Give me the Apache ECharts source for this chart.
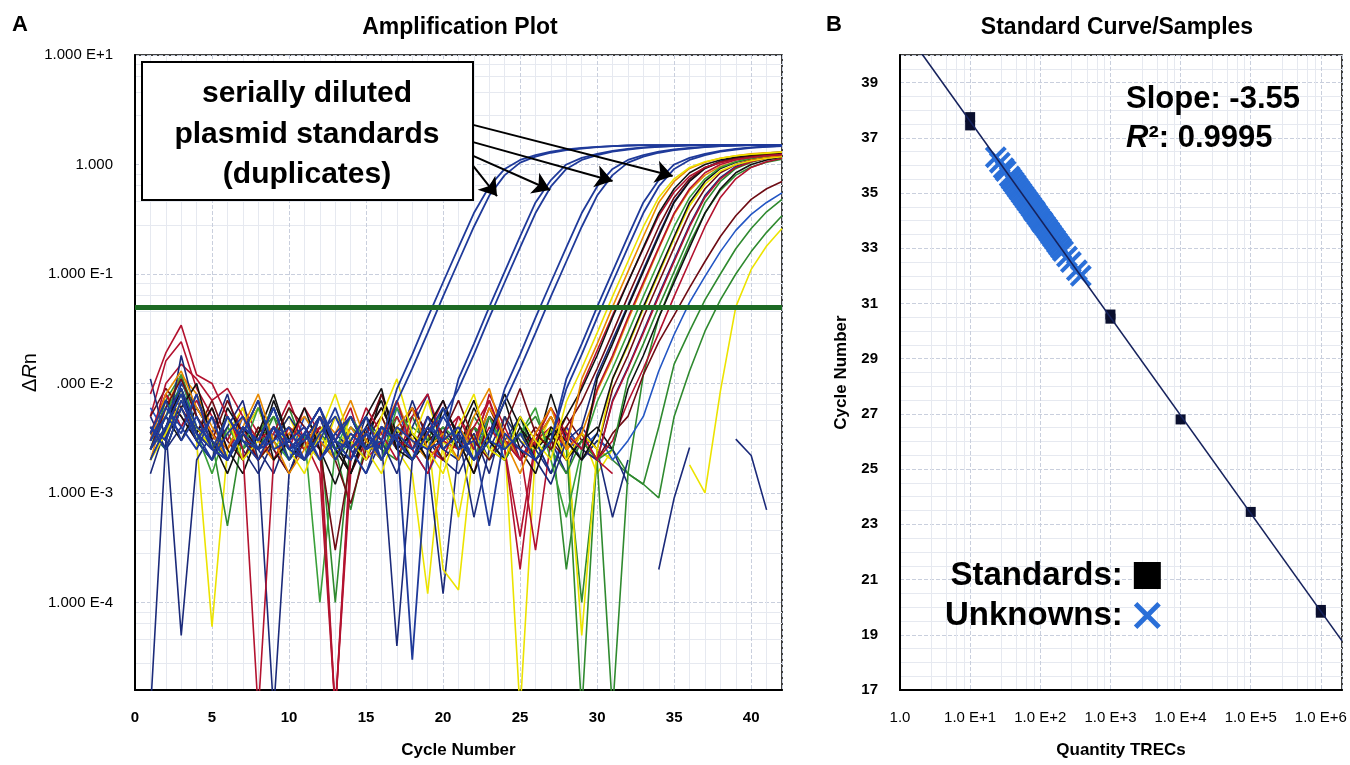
<!DOCTYPE html>
<html><head><meta charset="utf-8">
<script src="https://cdn.jsdelivr.net/npm/echarts@6/dist/echarts.min.js"></script>
<style>html,body{margin:0;padding:0;background:#fff}#c{width:1350px;height:765px}</style>
</head><body><div id="c"></div>
<script>
// ---------- Panel A: amplification curves (ΔRn per cycle 1..42) ----------
const cycles = [1,2,3,4,5,6,7,8,9,10,11,12,13,14,15,16,17,18,19,20,21,22,23,24,25,26,27,28,29,30,31,32,33,34,35,36,37,38,39,40,41,42];
const s1 = [.002,.0035,.007,.004,.0025,.005,.002,.003,.006,.0025, .0015,.0035,.008,.003,.002,.005,.011,.0035,.0025,.0015, .004,.008,.0025,.002,.005,.003,.002,.0068,.0137,.029, .0625,.13,.27,.5,.74,.94,1.06,1.14,1.2,1.24,1.27,1.3];
const s2 = [.003,.008,.013,.006,.0035,.002,.004,.008,.003,.0015, .0025,.005,.0035,.007,.003,.002,.004,.006,.0025,.0035, .002,.005,.009,.003,.0015,.0035,.006,.0025,.011,.023, .05,.105,.22,.45,.70,.92,1.05,1.14,1.2,1.25,1.28,1.3];
const s3 = [.004,.0025,.006,.01,.003,.0015,.0035,.007,.002,.003, .006,.0025,.0012,.003,.005,.009,.0025,.002,.004,.007, .003,.0015,.0035,.008,.004,.002,.003,.005,.0089,.018, .040,.084,.175,.36,.6,.84,1.0,1.1,1.17,1.22,1.26,1.29];
const s4 = [.008,.019,.034,.012,.01,.005,.0025,.00001,.002,.004, .003,.0015,.00001,.0025,.006,.0035,.002,.005,.008,.003, .0025,.004,.007,.003,.002,.0035,.006,.003,.0095,.02, .042,.085,.17,.34,.56,.78,.94,1.04,1.11,1.16,1.2,1.23];
const s5 = [.0025,.006,.011,.005,.003,.007,.0035,.002,.003,.006, .004,.0025,.0003,.002,.0035,.008,.003,.0025,.005,.0035, .007,.003,.002,.004,.009,.0035,.0025,.004,.0068,.0137, .029,.0625,.13,.27,.5,.74,.94,1.06,1.14,1.2,1.24,1.27];
const s6 = [.002,.004,.009,.0035,.006,.0025,.0015,.0035,.008,.003, .002,.005,.003,.0015,.004,.007,.0025,.0035,.002,.006, .0035,.002,.003,.007,.0025,.0015,.004,.003,.002,.011, .023,.05,.105,.22,.45,.70,.92,1.05,1.14,1.2,1.25,1.28];
const s7 = [.011,.003,.018,.005,.0025,.004,.007,.002,.00001,.0015, .0035,.006,.0025,.002,.005,.003,.0015,.004,.008,.0025, .002,.0035,.0015,.005,.003,.002,.0012,.003,.004,.012, .025,.052,.11,.23,.46,.71,.93,1.07,1.16,1.22,1.27,1.3];
const s8 = [.003,.01,.015,.011,.007,.009,.005,.003,.004,.0025, .006,.0035,.00001,.002,.004,.003,.007,.0025,.0015,.0035, .005,.0025,.008,.004,.002,.003,.006,.0035,.0025,.0089, .018,.040,.084,.175,.36,.6,.84,1.0,1.1,1.17,1.22,1.26];
const s9 = [.0025,.005,.012,.0035,.0015,.004,.0025,.006,.003,.002, .0035,.0001,.0025,.005,.003,.002,.006,.0035,.0025,.004, .003,.002,.005,.0025,.0035,.006,.002,.0006,.0025,.0068, .0137,.029,.0625,.13,.27,.5,.74,.94,1.06,1.14,1.2,1.24];
const s10 = [.0035,.007,.005,.003,.002,.006,.0035,.0025,.004,.002, .003,.005,.0025,.0015,.0035,.006,.003,.002,.004,.0025, .0035,.007,.003,.002,.005,.0025,.008,.003,.002,.0035, .011,.023,.05,.105,.22,.45,.70,.92,1.05,1.14,1.2,1.25];
const s11 = [.002,.006,.012,.008,.004,.0025,.005,.003,.002,.0035, .005,.003,.002,.004,.0025,.0035,.007,.003,.002,.003, .004,.0025,.006,.0035,.002,.003,.005,.0025,.0035,.0085, .017,.038,.08,.17,.35,.58,.8,.96,1.06,1.12,1.17,1.2];
const s12 = [.005,.009,.006,.0035,.007,.003,.002,.004,.0025,.0015, .003,.005,.002,.0008,.0025,.004,.003,.006,.0035,.002, .003,.0015,.005,.0035,.0025,.004,.003,.002,.0035,.0025, .0089,.018,.040,.084,.175,.36,.6,.84,1.0,1.1,1.17,1.22];
const s13 = [.003,.008,.004,.007,.0035,.0025,.005,.003,.002,.0035, .0025,.004,.003,.006,.002,.003,.005,.0025,.0035,.007, .003,.002,.004,.0025,.0004,.003,.005,.0025,.0035,.002, .0068,.0137,.029,.0625,.13,.27,.5,.74,.94,1.06,1.14,1.2];
const s14 = [.0015,.004,.00005,.002,.0035,.008,.0025,.0015,.003,.005, .003,.002,.0035,.0025,.0015,.003,.00004,.002,.004,.0025, .0035,.0006,.0025,.005,.002,.003,.0015,.0035,.0025,.002, .007,.014,.03,.065,.135,.28,.52,.76,.96,1.08,1.16,1.22];
const s15 = [.003,.006,.009,.004,.0025,.005,.002,.0035,.006,.0025, .002,.0035,.0001,.003,.005,.0025,.002,.004,.003,.006, .0025,.004,.003,.002,.0035,.005,.0025,.0015,.003,.002, .0025,.011,.023,.05,.105,.22,.45,.7,.92,1.05,1.14,1.2];
const s16 = [.0025,.005,.003,.006,.0035,.002,.004,.0025,.007,.003, .002,.004,.003,.005,.0025,.008,.0035,.002,.003,.004, .0025,.006,.003,.002,.004,.0025,.0035,.002,.003,.004, .0025,.0089,.018,.04,.084,.175,.36,.6,.84,1.0,1.1,1.17];
const s17 = [.0035,.008,.005,.003,.006,.0025,.004,.002,.0035,.007, .003,.005,.002,.0035,.0025,.004,.003,.006,.0025,.002, .005,.003,.007,.0025,.0002,.003,.004,.0025,.0035,.002, .003,.0068,.0137,.029,.0625,.13,.27,.5,.74,.94,1.06,1.14];
const s18 = [.004,.003,.007,.0035,.0025,.005,.003,.002,.004,.0025, .0035,.006,.0025,.0015,.003,.005,.0025,.0035,.002,.003, .004,.0025,.006,.003,.002,.0035,.0025,.005,.003,.002, .0035,.005,.012,.024,.042,.075,.13,.22,.34,.48,.6,.7];
const s19 = [.0025,.004,.008,.003,.005,.002,.0035,.006,.0025,.004, .003,.002,.005,.0035,.0025,.0015,.004,.003,.007,.0025, .0006,.0035,.002,.005,.003,.0025,.004,.002,.0035,.0025, .011,.022,.048,.1,.21,.42,.66,.87,1.0,1.08,1.14,1.18];
const s20 = [.006,.0035,.011,.004,.003,.002,.005,.0025,.0035,.002, .005,.003,.002,.004,.0025,.0035,.006,.0025,.0015,.003, .004,.0025,.005,.002,.0035,.003,.0015,.004,.0025,.0035, .002,.003,.005,.013,.028,.055,.095,.16,.25,.35,.45,.55];
const s21 = [.003,.005,.008,.004,.0025,.0035,.002,.004,.003,.006, .0025,.0035,.002,.003,.005,.0025,.004,.002,.003,.0035, .0025,.005,.003,.002,.0035,.0025,.004,.0002,.002,.003, .0025,.0015,.0012,.004,.015,.03,.058,.1,.17,.26,.37,.48];
const s22 = [.0035,.0025,.006,.003,.002,.004,.0025,.0035,.005,.002, .003,.004,.0025,.0007,.003,.002,.0035,.005,.0025,.003, .002,.004,.003,.0025,.005,.002,.0035,.003,.00001,.0025, .002,.0015,.0012,.0009,.005,.013,.03,.058,.1,.16,.24,.34];
const s23 = [.002,.0035,.006,.003,.00006,.0025,.004,.002,.003,.005, .0025,.0035,.002,.004,.003,.005,.0025,.0015,.00012,.003, .002,.004,.0025,.003,.00001,.0025,.005,.002,.0035,.0015, .0025,null,null,null,null,.0018,.001,.0085,.05,.11,.18,.26];
const s24 = [.005,.0025,.004,.008,.003,.002,.0035,.006,.0025,.0015, .0035,.0025,.005,.003,.002,.004,.0025,.007,.003,.002, .0015,.003,.005,.0025,.0035,.002,.003,.0015,.004,.0025, .0006,.002,null,null,null,null,null,null,.0031,.0022,.0007,null];
const s25 = [.00001,.003,.01,.006,.0035,.002,.004,.0025,.0015,.0035, .0025,.005,.003,.002,.0035,.0025,.004,.003,.002,.00012, .0025,.004,.002,.003,.005,.0025,.0015,.0035,.002,.003, .0025,.0012,null,.0002,.0009,.0026,null,null,null,null,null,null];
const s26 = [.005,.016,.024,.009,.005,.003,.006,.0035,.002,.003, .004,.0025,.00001,.0015,.0035,.006,.003,.002,.004,.0025, .0035,.002,.005,.003,.0025,.0003,.003,.004,.0025,.002, .0015,null,null,null,null,null,null,null,null,null,null,null];
const s27 = [.0025,.007,.012,.005,.003,.0005,.0035,.0025,.005,.003, .002,.0035,.0025,.004,.003,.002,.005,.0025,.0035,.002, .003,.004,.0025,.002,.0035,.003,.005,.0025,.0001,.002, .00001,.0015,.012,.04,.09,.19,.36,.58,.8,.95,1.05,1.12];
const s28 = [.003,.005,.009,.004,.0025,.0035,.006,.002,.003,.004, .0025,.0035,.002,.005,.003,.0025,.004,.002,.0035,.0002, .00013,.003,.005,.0025,.0035,.002,.003,.004,.00005,.0025, .002,null,null,null,null,null,null,null,null,null,null,null];
// plasmid standards (duplicates)
const std1a = [.003,.006,.004,.0025,.005,.002,.0035,.007,.0025,.003, .004,.002,.0035,.005,.0025,.003,.0089,.0184,.040,.084, .175,.36,.63,.91,1.10,1.22,1.31,1.37,1.42,1.45, 1.47,1.49,1.5,1.5,1.5,1.5,1.5,1.5,1.5,1.5,1.5,1.5];
const std1b = [.002,.004,.008,.0035,.0025,.005,.003,.002,.004,.0025, .0035,.006,.003,.002,.0035,.0025,.0068,.0137,.029,.0625, .13,.27,.52,.80,1.04,1.18,1.28,1.35,1.40,1.44, 1.47,1.49,1.5,1.5,1.5,1.5,1.5,1.5,1.5,1.5,1.5,1.5];
const std2a = [.004,.003,.007,.0035,.002,.005,.003,.0025,.004,.002, .0035,.006,.0025,.003,.005,.002,.0035,.0025,.004,.003, .011,.023,.05,.105,.22,.45,.72,1.0,1.15,1.25, 1.33,1.39,1.43,1.46,1.48,1.5,1.5,1.5,1.5,1.5,1.5,1.5];
const std2b = [.0025,.005,.009,.004,.003,.002,.004,.003,.006,.0025, .002,.0035,.005,.0025,.0015,.004,.003,.002,.0035,.005, .0089,.0184,.040,.084,.175,.36,.63,.91,1.10,1.22, 1.31,1.37,1.42,1.45,1.47,1.49,1.5,1.5,1.5,1.5,1.5,1.5];
const std3a = [.0035,.007,.003,.005,.0025,.002,.004,.003,.006,.0025, .003,.005,.002,.0035,.0025,.004,.003,.002,.005,.0025, .0035,.002,.003,.0089,.0184,.040,.084,.175,.36,.63, .91,1.10,1.22,1.31,1.37,1.42,1.45,1.47,1.49,1.5,1.5,1.5];
const std3b = [.0025,.004,.008,.003,.002,.0035,.005,.0025,.003,.004, .002,.003,.006,.0025,.0035,.002,.004,.003,.0025,.005, .003,.002,.0035,.0068,.0137,.029,.0625,.13,.27,.52, .80,1.04,1.18,1.28,1.35,1.40,1.44,1.47,1.49,1.5,1.5,1.5];
const std4a = [.003,.005,.0035,.008,.0025,.002,.004,.003,.006,.0025, .0035,.002,.003,.005,.0025,.004,.003,.002,.0035,.006, .0025,.003,.0005,.0035,.0025,.002,.003,.011,.023,.05, .105,.22,.45,.72,1.0,1.15,1.25,1.33,1.39,1.43,1.46,1.48];
const std4b = [.004,.0025,.006,.003,.005,.002,.0035,.0025,.004,.003, .002,.005,.003,.0025,.004,.002,.0035,.00003,.0025,.003, .004,.002,.003,.0025,.0035,.002,.003,.0089,.0184,.040, .084,.175,.36,.63,.91,1.10,1.22,1.31,1.37,1.42,1.45,1.47];
const threshold = 0.05;
const yTickLabelsA = {'1':'1.000 E+1','0':'1.000','-1':'1.000 E-1','-2':'.000 E-2','-3':'1.000 E-3','-4':'1.000 E-4'};
// annotation arrows: tail and head in (cycle, ΔRn)
const arrowTails = [[21.95,2.30],[21.95,1.60],[21.95,1.20],[21.95,0.97]];
const arrowHeads = [[34.9,0.786],[31.0,0.707],[26.95,0.585],[23.5,0.515]];

// ---------- Panel B: standard curve ----------
const stdQty = [10,10,1000,1000,10000,100000,1000000,1000000];
const stdCt  = [37.75,37.45,30.6,30.45,26.8,23.45,19.9,19.8];
const unkCt  = [36.3,36.1,35.9,35.8,35.6,35.5,35.4,35.3,35.2,35.1,35.0,34.9,34.8,34.7,34.6,34.5,34.4,34.35,34.3,34.2,34.1,34.0,33.95,33.9,33.8,33.7,33.6,33.5,33.4,33.3,33.2,33.1,33.0,32.9,32.7,32.5,32.2,32.0];
const unkQty = [23.2,26.5,30.1,32.1,36.6,39.0,41.7,44.5,47.4,50.6,54.0,57.6,61.5,65.6,70.0,74.7,79.7,82.3,85.0,90.7,96.8,103,107,110,118,126,134,143,152,163,173,185,198,211,240,273,332,378];
const fitLine = [[1,41.15],[2000000,18.78]];
const slopeText = 'Slope: -3.55';
const r2Text = ': 0.9995';

// ---------- build ----------
const FONT = '"Liberation Sans", Arial, sans-serif';
const YEL='#ece300', ORA='#e88a00', BLK='#111111', RED='#b3122f', DRD='#6e0c14', NAV='#1b2a7a', GRN='#2f8a2f', BLU='#2356c4', STD='#1f3a9a';
const sampleDefs = [
  [s21,GRN],[s22,GRN],[s23,YEL],[s24,NAV],[s25,NAV],[s26,RED],[s27,GRN],[s28,YEL],
  [s20,BLU],[s18,DRD],[s17,RED],[s16,BLK],[s15,GRN],[s14,NAV],[s13,RED],[s12,DRD],
  [s19,YEL],[s11,ORA],[s10,BLK],[s9,'#3aa03a'],[s8,RED],[s7,NAV],[s6,BLK],[s5,DRD],
  [s4,RED],[s3,BLK],[s2,ORA],[s1,YEL]
];
const stdDefs = [std1a,std1b,std2a,std2b,std3a,std3b,std4a,std4b];
const toXY = arr => arr.map((v,i)=>[cycles[i], v===null ? '-' : v]);
const series = [];
sampleDefs.forEach(([d,c])=>series.push({type:'line',xAxisIndex:0,yAxisIndex:0,data:toXY(d),symbol:'none',silent:true,
  lineStyle:{color:c,width:1.6},emphasis:{disabled:true}}));
stdDefs.forEach((d,k)=>{
  const s = {type:'line',xAxisIndex:0,yAxisIndex:0,data:toXY(d),symbol:'none',silent:true,
    lineStyle:{color:STD,width:1.8},emphasis:{disabled:true}};
  if(k===stdDefs.length-1){
    s.markLine = {silent:true,animation:false,label:{show:false},symbol:['none','none'],
      lineStyle:{color:'#1d6a24',width:5,type:'solid'},emphasis:{disabled:true},
      data:[{yAxis:threshold}]};
  }
  series.push(s);
});
// annotation arrows
series.push({type:'lines',coordinateSystem:'cartesian2d',xAxisIndex:0,yAxisIndex:0,silent:true,z:20,
  symbol:['none','arrow'],symbolSize:[1,17],
  lineStyle:{color:'#000',width:2,opacity:1,curveness:0},
  data:arrowTails.map((t,i)=>({coords:[t,arrowHeads[i]]}))});
const XPATH = 'path://M0,1.3L1.3,0L10,8.7L8.7,10ZM8.7,0L10,1.3L1.3,10L0,8.7Z';
series.push({type:'line',name:'fit',xAxisIndex:1,yAxisIndex:1,data:fitLine,symbol:'none',silent:true,
  lineStyle:{color:'#16225c',width:1.6}});
series.push({type:'scatter',name:'Unknowns:',xAxisIndex:1,yAxisIndex:1,data:unkQty.map((q,i)=>[q,unkCt[i]]),
  symbol:XPATH,symbolSize:22,itemStyle:{color:'#2a6fd8',opacity:1},silent:true});
series.push({type:'scatter',name:'Standards:',xAxisIndex:1,yAxisIndex:1,data:stdQty.map((q,i)=>[q,stdCt[i]]),
  symbol:'rect',symbolSize:10,itemStyle:{color:'#0a0f2e',opacity:1},silent:true});

const gridLine = {show:true,lineStyle:{color:'#c9cfdd',width:1,type:'dashed'}};
const minorLine = {show:true,lineStyle:{color:'#e6e9f0',width:1}};
const axLine = {show:true,onZero:false,lineStyle:{color:'#000',width:2}};

const option = {
  animation:false,
  backgroundColor:'#fff',
  textStyle:{fontFamily:FONT},
  grid:[
    {left:135,top:55,width:647,height:635,show:true,borderColor:'#000',borderWidth:1.5,backgroundColor:'transparent'},
    {left:900,top:55,width:442,height:635,show:true,borderColor:'#000',borderWidth:1.5,backgroundColor:'transparent'}
  ],
  xAxis:[
    {type:'value',gridIndex:0,min:0,max:42,interval:5,axisLine:axLine,axisTick:{show:false},
     axisLabel:{formatter:v=>(v%5===0?String(v):''),fontSize:15,color:'#000',margin:20,fontFamily:FONT,fontWeight:'bold'},
     splitLine:gridLine,minorTick:{show:false,splitNumber:5},minorSplitLine:minorLine,
     name:'Cycle Number',nameLocation:'middle',nameGap:52,nameTextStyle:{fontSize:17,fontWeight:'bold',color:'#000',fontFamily:FONT}},
    {type:'log',logBase:10,gridIndex:1,min:1,max:2000000,axisLine:axLine,axisTick:{show:false},
     axisLabel:{formatter:v=>{const l=Math.log10(v),e=Math.round(l);if(Math.abs(l-e)>1e-6)return '';return e===0?'1.0':'1.0 E+'+e;},
       fontSize:15,color:'#000',margin:20,fontFamily:FONT},
     splitLine:gridLine,minorTick:{show:false,splitNumber:5},minorSplitLine:minorLine,
     name:'Quantity TRECs',nameLocation:'middle',nameGap:52,nameTextStyle:{fontSize:17,fontWeight:'bold',color:'#000',fontFamily:FONT}}
  ],
  yAxis:[
    {type:'log',logBase:10,gridIndex:0,min:0.00001585,max:10,axisLine:axLine,axisTick:{show:false},
     axisLabel:{formatter:v=>{const l=Math.log10(v),e=Math.round(l);if(Math.abs(l-e)>1e-6)return '';return yTickLabelsA[String(e)]||'';},
       fontSize:15,color:'#000',margin:22,fontFamily:FONT},
     splitLine:gridLine,minorTick:{show:false,splitNumber:5},minorSplitLine:minorLine,
     name:'{d|Δ}{r|R}{d|n}',nameLocation:'middle',nameGap:80,nameRotate:90,
     nameTextStyle:{rich:{d:{fontSize:20,color:'#000',fontFamily:FONT},r:{fontSize:20,fontStyle:'italic',color:'#000',fontFamily:FONT}}}},
    {type:'value',gridIndex:1,min:17,max:40,interval:2,axisLine:axLine,axisTick:{show:false},
     axisLabel:{formatter:v=>((v%2===1&&v<40)?String(v):''),fontSize:15,fontWeight:'bold',color:'#000',margin:22,fontFamily:FONT},
     splitLine:gridLine,minorTick:{show:false,splitNumber:4},minorSplitLine:minorLine,
     name:'Cycle Number',nameLocation:'middle',nameGap:50,
     nameTextStyle:{fontSize:17,fontWeight:'bold',color:'#000',fontFamily:FONT}}
  ],
  legend:{show:true,left:940,top:552,orient:'vertical',align:'right',selectedMode:false,
    itemWidth:27,itemHeight:27,itemGap:3,
    data:[{name:'Standards:',icon:'rect',itemStyle:{color:'#000',opacity:1}},{name:'Unknowns:',icon:XPATH,itemStyle:{color:'#2a6fd8',opacity:1}}],
    textStyle:{fontSize:33,fontWeight:'bold',color:'#000',fontFamily:FONT,lineHeight:37,padding:[0,6,0,0]}},
  graphic:[
    {type:'text',left:12,top:14,style:{text:'A',font:'bold 22px '+FONT,fill:'#000'}},
    {type:'text',x:460,y:28,style:{text:'Amplification Plot',font:'bold 23px '+FONT,fill:'#000',textAlign:'center',textVerticalAlign:'middle'}},
    {type:'text',left:826,top:14,style:{text:'B',font:'bold 22px '+FONT,fill:'#000'}},
    {type:'text',x:1117,y:28,style:{text:'Standard Curve/Samples',font:'bold 23px '+FONT,fill:'#000',textAlign:'center',textVerticalAlign:'middle'}},
    {type:'rect',z:50,shape:{x:142,y:62,width:331,height:138},style:{fill:'#fff',stroke:'#000',lineWidth:2}},
    {type:'text',z:51,x:307,y:94,style:{text:'serially diluted',font:'bold 30px '+FONT,fill:'#000',textAlign:'center',textVerticalAlign:'middle'}},
    {type:'text',z:51,x:307,y:135,style:{text:'plasmid standards',font:'bold 30px '+FONT,fill:'#000',textAlign:'center',textVerticalAlign:'middle'}},
    {type:'text',z:51,x:307,y:175,style:{text:'(duplicates)',font:'bold 30px '+FONT,fill:'#000',textAlign:'center',textVerticalAlign:'middle'}},
    {type:'text',z:51,x:1126,y:99,style:{text:slopeText,font:'bold 31px '+FONT,fill:'#000',textVerticalAlign:'middle'}},
    {type:'text',z:51,x:1126,y:138,style:{text:'{i|R}{b|²'+r2Text+'}',textVerticalAlign:'middle',
      rich:{i:{font:'italic bold 31px '+FONT,fill:'#000'},b:{font:'bold 31px '+FONT,fill:'#000'}}}}
  ],
  series:series
};
const chart = echarts.init(document.getElementById('c'),null,{renderer:'canvas'});
chart.setOption(option);
</script></body></html>
